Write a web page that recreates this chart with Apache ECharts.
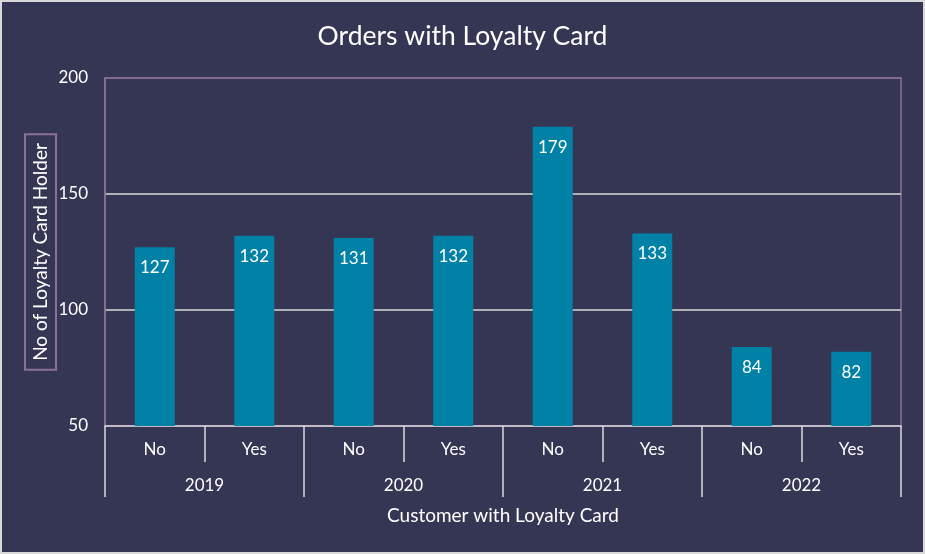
<!DOCTYPE html>
<html><head><meta charset="utf-8">
<script src="https://cdn.jsdelivr.net/npm/echarts@6/dist/echarts.min.js"></script>
<style>
html,body{margin:0;padding:0;background:#d9d9d9;}
#wrap{position:relative;width:925px;height:554px;}
#chart{position:absolute;left:0;top:0;width:925px;height:554px;}
#frame{position:absolute;left:0;top:0;width:925px;height:554px;box-sizing:border-box;border:2px solid #d9d9d9;pointer-events:none;}
</style>
</head><body>
<div id="wrap"><div id="chart"></div><div id="frame"></div></div>
<script>
const categories = ['No','Yes','No','Yes','No','Yes','No','Yes'];
const years = ['2019','2020','2021','2022'];
const values = [127,132,131,132,179,133,84,82];
const yTicks = [50,100,150,200];

const FONT = 'Lato';
const light = '#d9d9d9';
const purple = '#8d6f9b';
const chart = echarts.init(document.getElementById('chart'));
chart.setOption({
  backgroundColor: '#343654',
  animation: false,
  textStyle: {fontFamily: FONT},
  title: {
    text: 'Orders with Loyalty Card', left: 'center', top: 18,
    textStyle: {color: '#ffffff', fontSize: 26.5, fontWeight: 'normal', fontFamily: FONT}
  },
  grid: {left: 105, right: 24, top: 78, bottom: 128, show: true, borderColor: purple, borderWidth: 1.5, backgroundColor: 'transparent'},
  xAxis: [
    {
      type: 'category', data: categories, position: 'bottom',
      axisLine: {show: true, lineStyle: {color: light, width: 1.5}},
      axisTick: {show: true, length: 36, lineStyle: {color: light, width: 1.5}},
      axisLabel: {color: '#ffffff', fontSize: 17, margin: 15, fontFamily: FONT}
    },
    {
      type: 'category', data: years, position: 'bottom',
      axisLine: {show: false},
      axisTick: {show: true, length: 71, lineStyle: {color: light, width: 1.5}},
      axisLabel: {color: '#ffffff', fontSize: 17, margin: 51, fontFamily: FONT},
      name: 'Customer with Loyalty Card', nameLocation: 'middle', nameGap: 80, nameMoveOverlap: false,
      nameTextStyle: {color: '#ffffff', fontSize: 19, fontFamily: FONT}
    }
  ],
  yAxis: {
    type: 'value', min: yTicks[0], max: yTicks[yTicks.length-1], interval: 50,
    axisLine: {show: true, lineStyle: {color: purple, width: 1.5}},
    axisTick: {show: false},
    axisLabel: {color: '#ffffff', fontSize: 17, margin: 17, fontFamily: FONT},
    splitLine: {show: true, lineStyle: {color: ['transparent', light, light, purple], width: 1.5}},
    name: 'No of Loyalty Card Holder', nameLocation: 'middle', nameRotate: 90, nameGap: 49, nameMoveOverlap: false,
    nameTextStyle: {color: '#ffffff', fontSize: 19, fontFamily: FONT, borderColor: purple, borderWidth: 2, padding: [6, 9]}
  },
  series: [{
    type: 'bar', data: values, xAxisIndex: 0, barWidth: 40,
    itemStyle: {color: '#0181a6'},
    label: {show: true, position: 'insideTop', distance: 12, color: '#ffffff', fontSize: 17, fontFamily: FONT}
  }]
});
</script>
</body></html>
